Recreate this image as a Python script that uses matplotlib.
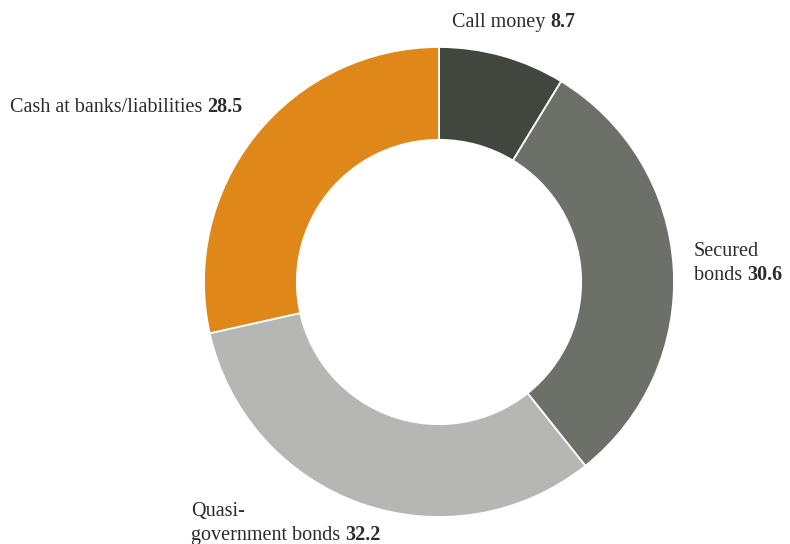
import matplotlib
matplotlib.use("Agg")
import matplotlib.pyplot as plt

labels = ["Call money", "Secured\nbonds", "Quasi-\ngovernment bonds", "Cash at banks/liabilities"]
values = [8.7, 30.6, 32.2, 28.5]
colors = ["#41463e", "#6d7068", "#b6b6b5", "#df8719"]

plt.rcParams["font.family"] = ["Liberation Serif", "DejaVu Serif"]
TEXT = "#2b2b2b"

W, H = 790, 544
cx, cy, R = 439, 282, 235

fig = plt.figure(figsize=(W / 100, H / 100), dpi=100)
ax = fig.add_axes([(cx - R) / W, (H - cy - R) / H, 2 * R / W, 2 * R / H])
ax.pie(values, colors=colors, startangle=90, counterclock=False, radius=1.0,
       wedgeprops=dict(width=0.395, edgecolor="white", linewidth=1.3))
ax.set_xlim(-1, 1)
ax.set_ylim(-1, 1)
ax.set_aspect("equal")
ax.axis("off")

# label anchor: left edge x, baseline y of last line (pixels)
anchors = [(452, 27), (694, 280), (191, 540), (10, 112)]
line_gap = 24
FS = 14.5


def px(x, y):
    return ((x - cx) / R, (cy - y) / R)


for lab, val, (x, y) in zip(labels, values, anchors):
    lines = lab.split("\n")
    for i, line in enumerate(lines[:-1]):
        yy = y - line_gap * (len(lines) - 1 - i)
        ax.text(*px(x, yy), line, fontsize=FS, color=TEXT, ha="left",
                va="baseline", clip_on=False)
    t = ax.text(*px(x, y), lines[-1] + " ", fontsize=FS, color=TEXT,
                ha="left", va="baseline", clip_on=False)
    ax.annotate(f"{val:.1f}", xy=(1, 0), xycoords=t, fontsize=FS,
                fontweight="bold", color=TEXT, ha="left", va="bottom",
                annotation_clip=False)

fig.savefig("out.png", dpi=100, facecolor="white")
